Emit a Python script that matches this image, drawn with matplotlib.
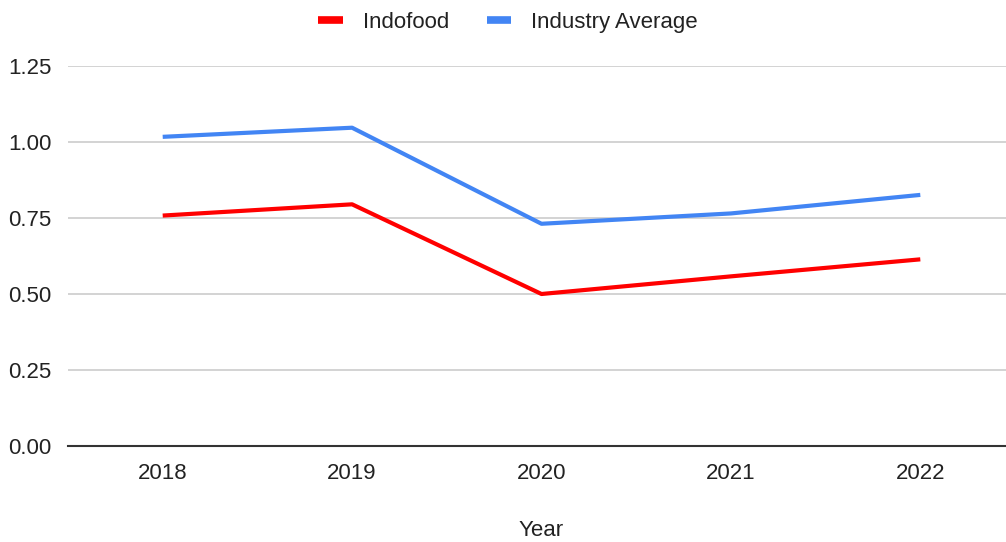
import matplotlib.pyplot as plt
import numpy as np

plt.rcParams["font.family"] = ["Liberation Sans", "DejaVu Sans"]

years = ["2018", "2019", "2020", "2021", "2022"]
indofood = [0.758, 0.795, 0.500, 0.558, 0.614]
industry_avg = [1.017, 1.047, 0.731, 0.765, 0.826]
y_ticks = [0.00, 0.25, 0.50, 0.75, 1.00, 1.25]

fig = plt.figure(figsize=(10.06, 5.42), dpi=100)
ax = fig.add_axes([68 / 1006, 1 - 446 / 542, 947 / 1006, 380 / 542])

x = np.arange(len(years))
ax.plot(x, indofood, color="#ff0000", lw=3, label="Indofood", solid_capstyle="butt")
ax.plot(x, industry_avg, color="#4285f4", lw=3, label="Industry Average", solid_capstyle="butt")

ax.set_xlim(-0.5, len(years) - 0.5)
ax.set_ylim(0, 1.25)
ax.set_xticks(x, labels=years)
ax.set_yticks(y_ticks, labels=[f"{t:.2f}" for t in y_ticks])
ax.tick_params(axis="both", length=0, labelsize=16, labelcolor="#222222")
ax.tick_params(axis="x", pad=12)
ax.tick_params(axis="y", pad=12)

ax.grid(axis="y", color="#cccccc", lw=1.2)
ax.set_axisbelow(True)
for s in ["top", "right", "left"]:
    ax.spines[s].set_visible(False)
ax.spines["bottom"].set_color("#333333")
ax.spines["bottom"].set_linewidth(1.5)
ax.spines["bottom"].set_zorder(3)

ax.set_xlabel("Year", fontsize=16, color="#222222", labelpad=26)

ax.legend(loc="upper center", bbox_to_anchor=(508 / 1006, 1.0 + 8 / 542), bbox_transform=fig.transFigure,
          ncol=2, frameon=False, fontsize=16, handlelength=1.1, handletextpad=0.9,
          columnspacing=1.7, labelcolor="#222222")
leg = ax.get_legend()
for h in leg.legend_handles:
    h.set_linewidth(5.5)

fig.savefig("out.png", dpi=100)
